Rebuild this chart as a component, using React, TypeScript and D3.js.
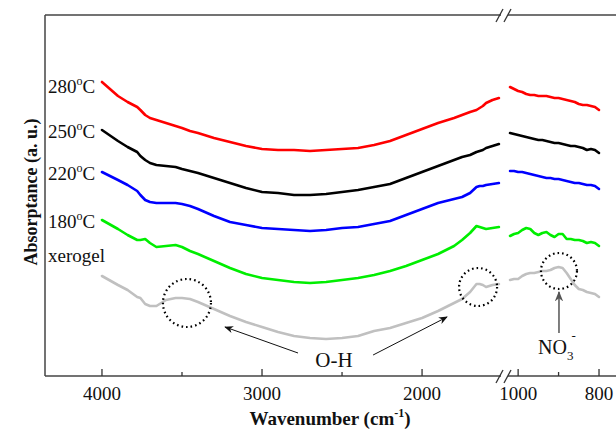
import React from 'react';
import * as d3 from 'd3';

// wavenumbers (cm-1) sampled on each side of the axis break
const leftWavenumbers = [
  4000, 3900, 3840, 3780, 3760, 3730, 3700, 3660, 3600, 3540, 3500, 3450, 3400,
  3300, 3200, 3100, 3000, 2900, 2800, 2700, 2600, 2500, 2400, 2300, 2200, 2100,
  2000, 1900, 1800, 1750, 1700, 1660, 1640, 1620, 1600, 1560, 1520,
];
const rightWavenumbers = [
  1020, 1010, 1000, 990, 980, 970, 960, 950, 940, 930, 920, 910, 900, 890, 880,
  870, 860, 850, 840, 830, 820, 810, 800,
];

const seriesLabels = ['280', '250', '220', '180', 'xerogel'];

const t280Left = [
  2.94, 2.8, 2.74, 2.69, 2.66, 2.61, 2.58, 2.56, 2.53, 2.5, 2.48, 2.45, 2.43,
  2.38, 2.34, 2.3, 2.27, 2.26, 2.26, 2.25, 2.26, 2.27, 2.28, 2.31, 2.35, 2.41,
  2.47, 2.53, 2.58, 2.61, 2.64, 2.66, 2.68, 2.7, 2.73, 2.76, 2.78,
];
const t250Left = [
  2.46, 2.35, 2.29, 2.24, 2.2, 2.16, 2.13, 2.11, 2.1, 2.09, 2.07, 2.05, 2.03,
  1.98, 1.93, 1.88, 1.84, 1.83, 1.81, 1.81, 1.82, 1.84, 1.86, 1.89, 1.92, 1.98,
  2.04, 2.1, 2.16, 2.19, 2.21, 2.24, 2.25, 2.26, 2.28, 2.3, 2.32,
];
const t220Left = [
  2.04, 1.96, 1.91, 1.85, 1.81, 1.76, 1.74, 1.73, 1.73, 1.73, 1.72, 1.7, 1.67,
  1.6, 1.54, 1.51, 1.48, 1.47, 1.46, 1.45, 1.46, 1.48, 1.49, 1.52, 1.55, 1.61,
  1.67, 1.73, 1.77, 1.79, 1.83, 1.89, 1.9, 1.9, 1.91, 1.92, 1.93,
];
const t180Left = [
  1.56, 1.47, 1.41, 1.36, 1.36, 1.37, 1.33, 1.29, 1.3, 1.31, 1.29, 1.25, 1.22,
  1.15, 1.08, 1.02, 0.98, 0.96, 0.94, 0.93, 0.94, 0.96, 0.98, 1.01, 1.05, 1.1,
  1.16, 1.22, 1.3, 1.36, 1.43, 1.5, 1.49, 1.48, 1.47, 1.48, 1.49,
];
const xerogelLeft = [
  1.0, 0.91, 0.86, 0.79, 0.78, 0.72, 0.7, 0.7, 0.76, 0.78, 0.78, 0.77, 0.74,
  0.67, 0.6, 0.54, 0.49, 0.44, 0.4, 0.38, 0.37, 0.38, 0.4, 0.45, 0.48, 0.53,
  0.58, 0.65, 0.73, 0.77, 0.84, 0.92, 0.92, 0.91, 0.89, 0.91, 0.92,
];

const t280Right = [
  2.89, 2.87, 2.85, 2.84, 2.82, 2.81, 2.81, 2.8, 2.8, 2.8, 2.79, 2.78, 2.78,
  2.77, 2.76, 2.75, 2.74, 2.72, 2.71, 2.71, 2.7, 2.69, 2.66,
];
const t250Right = [
  2.43, 2.42, 2.41, 2.4, 2.39, 2.38, 2.37, 2.36, 2.36, 2.35, 2.34, 2.33, 2.33,
  2.32, 2.31, 2.3, 2.3, 2.29, 2.28, 2.26, 2.27, 2.26, 2.23,
];
const t220Right = [
  2.05, 2.05, 2.04, 2.04, 2.03, 2.02, 2.01, 2.0, 1.99, 1.98, 1.98, 1.97, 1.97,
  1.96, 1.95, 1.94, 1.93, 1.93, 1.92, 1.91, 1.91, 1.9, 1.87,
];
const t180Right = [
  1.4, 1.42, 1.43, 1.46, 1.48, 1.47, 1.43, 1.41, 1.43, 1.44, 1.41, 1.39, 1.42,
  1.42, 1.37, 1.37, 1.36, 1.36, 1.35, 1.33, 1.34, 1.33, 1.3,
];
const xerogelRight = [
  0.96, 0.97, 0.97, 1.0, 1.02, 1.03, 1.03, 1.04, 1.05, 1.05, 1.06, 1.08, 1.09,
  1.08, 1.03, 0.97, 0.91, 0.87, 0.86, 0.84, 0.83, 0.82, 0.79,
];

const leftTicks = [4000, 3000, 2000];
const leftMinorTicks = [3500, 2500];
const rightTicks = [1000, 800];
const rightMinorTicks = [900];

const leftValues = [t280Left, t250Left, t220Left, t180Left, xerogelLeft];
const rightValues = [t280Right, t250Right, t220Right, t180Right, xerogelRight];
const colors = ['#ff0000', '#000000', '#0000ff', '#00ee00', '#c0c0c0'];

const W = 616;
const H = 431;
const FONT = '"Liberation Serif", "Times New Roman", serif';

const App = () => {
  const top = 15;
  const bottom = 376;
  const axisLeft = 45;
  const breakL = 501;
  const breakR = 508;

  const xLeft = d3.scaleLinear().domain([4356, 1488]).range([axisLeft, 504]);
  const xRight = d3.scaleLinear().domain([1030, 758]).range([506, W]);
  const y = d3.scaleLinear().domain([0, 3.61]).range([bottom, top]);

  const lineLeft = d3
    .line<number>()
    .x((_, i) => xLeft(leftWavenumbers[i]))
    .y((d) => y(d));
  const lineRight = d3
    .line<number>()
    .x((_, i) => xRight(rightWavenumbers[i]))
    .y((d) => y(d));

  // label baselines for the series names at the left
  const labelY = [93, 138, 180, 228, 262];

  const slash = (cx: number, cy: number) => (
    <g stroke="#333" strokeWidth={1.3}>
      <line x1={cx - 9} y1={cy + 7} x2={cx - 2} y2={cy - 6} />
      <line x1={cx - 1} y1={cy + 7} x2={cx + 6} y2={cy - 6} />
    </g>
  );

  return (
    <div style={{ position: 'absolute', left: 0, top: 0 }}>
      <svg width={W} height={H} style={{ display: 'block', background: '#fff' }} fontFamily={FONT}>
        <defs>
          <marker id="headBlack" viewBox="0 0 10 10" refX="9" refY="5" markerWidth="9" markerHeight="9" orient="auto">
            <path d="M0,1 L10,5 L0,9 L3,5 z" fill="#111" />
          </marker>
          <marker id="headGrey" viewBox="0 0 10 10" refX="9" refY="5" markerWidth="7" markerHeight="7" orient="auto">
            <path d="M0,1 L10,5 L0,9 L3,5 z" fill="#555" />
          </marker>
        </defs>

        {/* frame */}
        <g stroke="#444" strokeWidth={1.5} fill="none">
          <line x1={axisLeft} y1={top} x2={axisLeft} y2={bottom} />
          <line x1={axisLeft} y1={top} x2={breakL} y2={top} />
          <line x1={breakR} y1={top} x2={W} y2={top} />
          <line x1={axisLeft} y1={bottom} x2={breakL} y2={bottom} />
          <line x1={breakR} y1={bottom} x2={W} y2={bottom} />
        </g>
        {slash(505, top)}
        {slash(505, bottom)}

        {/* ticks */}
        <g stroke="#333" strokeWidth={1.3}>
          {leftTicks.map((t) => (
            <line key={'lt' + t} x1={xLeft(t)} x2={xLeft(t)} y1={bottom} y2={bottom - 7} />
          ))}
          {leftMinorTicks.map((t) => (
            <line key={'lm' + t} x1={xLeft(t)} x2={xLeft(t)} y1={bottom} y2={bottom - 4} />
          ))}
          {rightTicks.map((t) => (
            <line key={'rt' + t} x1={xRight(t)} x2={xRight(t)} y1={bottom} y2={bottom - 7} />
          ))}
          {rightMinorTicks.map((t) => (
            <line key={'rm' + t} x1={xRight(t)} x2={xRight(t)} y1={bottom} y2={bottom - 4} />
          ))}
        </g>
        <g fontSize={19} fill="#111" textAnchor="middle">
          {leftTicks.map((t) => (
            <text key={'ll' + t} x={xLeft(t)} y={400}>{t}</text>
          ))}
          {rightTicks.map((t) => (
            <text key={'rl' + t} x={xRight(t)} y={400}>{t}</text>
          ))}
        </g>

        {/* axis titles */}
        <text x={330} y={425} fontSize={19} fontWeight="bold" textAnchor="middle" fill="#111">
          Wavenumber (cm
          <tspan fontSize={12} dy={-8}>-1</tspan>
          <tspan dy={8}>)</tspan>
        </text>
        <text
          transform="translate(37,192) rotate(-90)"
          fontSize={18}
          fontWeight="bold"
          textAnchor="middle"
          fill="#111"
        >
          Absorptance (a. u.)
        </text>

        {/* spectra */}
        <g fill="none" strokeWidth={2.6} strokeLinejoin="round" strokeLinecap="round">
          {leftValues.map((vals, i) => (
            <path key={'l' + i} d={lineLeft(vals) || ''} stroke={colors[i]} />
          ))}
          {rightValues.map((vals, i) => (
            <path key={'r' + i} d={lineRight(vals) || ''} stroke={colors[i]} />
          ))}
        </g>

        {/* series labels */}
        <g fontSize={19} fill="#111">
          {seriesLabels.map((s, i) =>
            s === 'xerogel' ? (
              <text key={s} x={48} y={labelY[i]}>{s}</text>
            ) : (
              <text key={s} x={48} y={labelY[i]}>
                {s}
                <tspan fontSize={12} dy={-8}>o</tspan>
                <tspan dy={8}>C</tspan>
              </text>
            )
          )}
        </g>

        {/* dotted circles */}
        <g fill="none" stroke="#000" strokeWidth={2.2} strokeDasharray="1.6 3">
          <circle cx={xLeft(3469)} cy={y(0.73)} r={24} />
          <circle cx={xLeft(1650)} cy={y(0.89)} r={19} />
          <circle cx={xRight(899)} cy={y(1.05)} r={18} />
        </g>

        {/* O-H annotation */}
        <g stroke="#111" strokeWidth={1}>
          <line x1={xLeft(2775)} y1={y(0.23)} x2={xLeft(3231)} y2={y(0.49)} markerEnd="url(#headBlack)" />
          <line x1={xLeft(2306)} y1={y(0.21)} x2={xLeft(1844)} y2={y(0.59)} markerEnd="url(#headBlack)" />
        </g>
        <text x={xLeft(2550)} y={367} fontSize={21} textAnchor="middle" fill="#111">O-H</text>

        {/* NO3- annotation */}
        <line
          x1={xRight(899)}
          y1={y(0.43)}
          x2={xRight(899)}
          y2={y(0.84)}
          stroke="#555"
          strokeWidth={1.5}
          markerEnd="url(#headGrey)"
        />
        <text x={538} y={354} fontSize={20} fill="#111">
          NO
          <tspan fontSize={13} dy={6}>3</tspan>
          <tspan fontSize={13} dx={-2} dy={-20}>-</tspan>
        </text>
      </svg>
    </div>
  );
};

export default App;
